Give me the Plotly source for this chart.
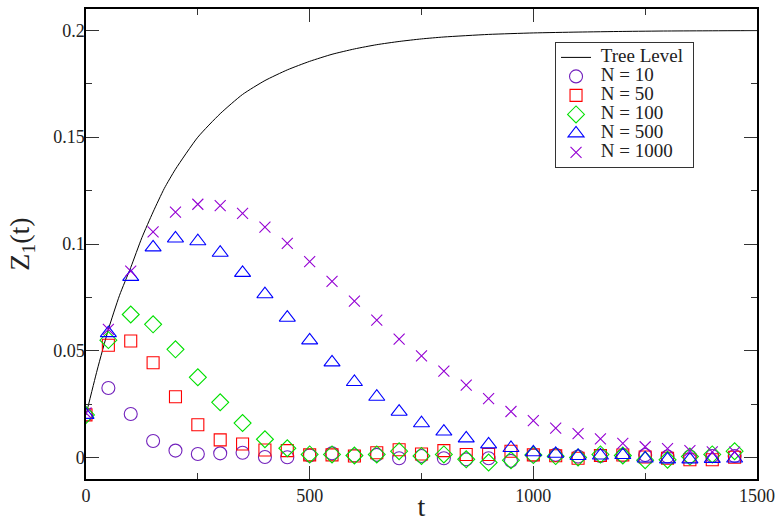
import plotly.graph_objects as go

# time grid of the Monte Carlo measurements
t_mc = [0, 50, 100, 150, 200, 250, 300, 350, 400, 450, 500, 550, 600, 650, 700,
        750, 800, 850, 900, 950, 1000, 1050, 1100, 1150, 1200, 1250, 1300, 1350, 1400, 1450]

z_n10 = [0.0200, 0.0326, 0.0204, 0.0078, 0.0033, 0.0017, 0.0020, 0.0023, 0.0003, 0.0002,
         0.0010, 0.0020, 0.0010, 0.0013, -0.0003, 0.0008, -0.0003, -0.0008, -0.0003, -0.0015,
         0.0010, 0.0013, 0.0005, 0.0008, 0.0010, 0.0012, 0.0005, 0.0005, 0.0008, 0.0008]

z_n50 = [0.0200, 0.0526, 0.0546, 0.0444, 0.0285, 0.0154, 0.0083, 0.0064, 0.0036, 0.0033,
         0.0013, 0.0013, 0.0008, 0.0023, 0.0037, 0.0017, 0.0033, 0.0015, 0.0015, 0.0030,
         0.0013, 0.0009, -0.0003, 0.0010, 0.0012, 0.0003, -0.0003, -0.0010, -0.0010, 0.0002]

z_n100 = [0.0200, 0.0550, 0.0670, 0.0624, 0.0507, 0.0376, 0.0259, 0.0162, 0.0086, 0.0044,
          0.0015, 0.0015, 0.0010, 0.0015, 0.0030, 0.0008, 0.0015, -0.0008, -0.0023, -0.0012,
          0.0012, 0.0007, 0.0001, 0.0015, 0.0010, -0.0012, -0.0010, 0.0005, 0.0015, 0.0030]

z_n500 = [0.0200, 0.0583, 0.0846, 0.0984, 0.1026, 0.1013, 0.0959, 0.0865, 0.0765, 0.0655,
          0.0549, 0.0446, 0.0354, 0.0285, 0.0215, 0.0161, 0.0122, 0.0090, 0.0062, 0.0045,
          0.0025, 0.0018, 0.0008, 0.0010, 0.0012, -0.0004, -0.0008, -0.0008, -0.0006, -0.0004]

z_n1000 = [0.0209, 0.0600, 0.0873, 0.1057, 0.1149, 0.1186, 0.1180, 0.1143, 0.1079, 0.1003,
           0.0917, 0.0825, 0.0733, 0.0644, 0.0555, 0.0476, 0.0405, 0.0339, 0.0276, 0.0216,
           0.0173, 0.0138, 0.0112, 0.0088, 0.0067, 0.0051, 0.0042, 0.0033, 0.0027, 0.0026]

# tree-level curve
t_tree = [0, 25, 50, 75, 100, 125, 150, 175, 200, 250, 300, 350, 400, 450, 500,
          550, 600, 650, 700, 750, 800, 900, 1000, 1100, 1200, 1300, 1400, 1500]
z_tree = [0.020, 0.041, 0.060, 0.076, 0.089, 0.103, 0.115, 0.126, 0.135, 0.150, 0.161,
          0.170, 0.1765, 0.1815, 0.1855, 0.1888, 0.1913, 0.1933, 0.1948, 0.1960, 0.1969,
          0.1981, 0.1988, 0.1992, 0.1995, 0.1997, 0.1998, 0.1999]

x_ticks = [0, 500, 1000, 1500]
y_ticks = [0, 0.05, 0.1, 0.15, 0.2]
y_tick_text = ["0", "0.05", "0.1", "0.15", "0.2"]

SERIF = "Liberation Serif"
LEGEND_TEXT = "<span style='font-size:19px'>&nbsp;{}&nbsp;</span>"

series = [
    ("N = 10", z_n10, "circle-open", 13, "#7221BC"),
    ("N = 50", z_n50, "square-open", 12, "#FF0000"),
    ("N = 100", z_n100, "diamond-open", 13, "#00E000"),
    ("N = 500", z_n500, "triangle-up-open", 14, "#0000FF"),
    ("N = 1000", z_n1000, "x-thin-open", 11, "#9400D3"),
]

fig = go.Figure()
fig.add_trace(go.Scatter(
    x=t_tree, y=z_tree, mode="lines", name=LEGEND_TEXT.format("Tree Level"),
    line=dict(color="black", width=1, shape="spline", smoothing=0.6),
))
for name, z, sym, size, col in series:
    fig.add_trace(go.Scatter(
        x=t_mc, y=z, mode="markers", name=LEGEND_TEXT.format(name),
        marker=dict(symbol=sym, size=size, color=col, line=dict(color=col, width=1.1)),
    ))

axis_common = dict(
    showline=True, linecolor="black", linewidth=1.5, mirror="allticks",
    ticks="inside", ticklen=13, tickwidth=1, tickcolor="#333",
    showgrid=False, zeroline=False, automargin=False,
    tickfont=dict(family=SERIF, size=18, color="#222"),
)

fig.update_xaxes(
    range=[0, 1500], tickvals=x_ticks,
    minor=dict(dtick=250, tick0=0, ticks="inside", ticklen=6, tickcolor="#333", showgrid=False),
    title=dict(text="t", font=dict(family=SERIF, size=28, color="#222"), standoff=10),
    **axis_common,
)
fig.update_yaxes(
    range=[-0.01, 0.21], tickvals=y_ticks, ticktext=y_tick_text,
    minor=dict(dtick=0.025, tick0=0, ticks="inside", ticklen=6, tickcolor="#333", showgrid=False),
    title=dict(text="Z<sub>1</sub>(t)", font=dict(family=SERIF, size=28, color="#222")),
    ticklabelstandoff=-4,
    **axis_common,
)

fig.update_layout(
    width=778, height=522,
    margin=dict(l=86, r=21, t=9, b=43),
    paper_bgcolor="white", plot_bgcolor="white",
    font=dict(family=SERIF, color="#222"),
    legend=dict(
        x=0.699, y=0.93, xanchor="left", yanchor="top",
        bgcolor="white", bordercolor="#333", borderwidth=1,
        font=dict(family=SERIF, size=12, color="#222"),
        itemwidth=30,
    ),
)

fig.write_html("out.html")
